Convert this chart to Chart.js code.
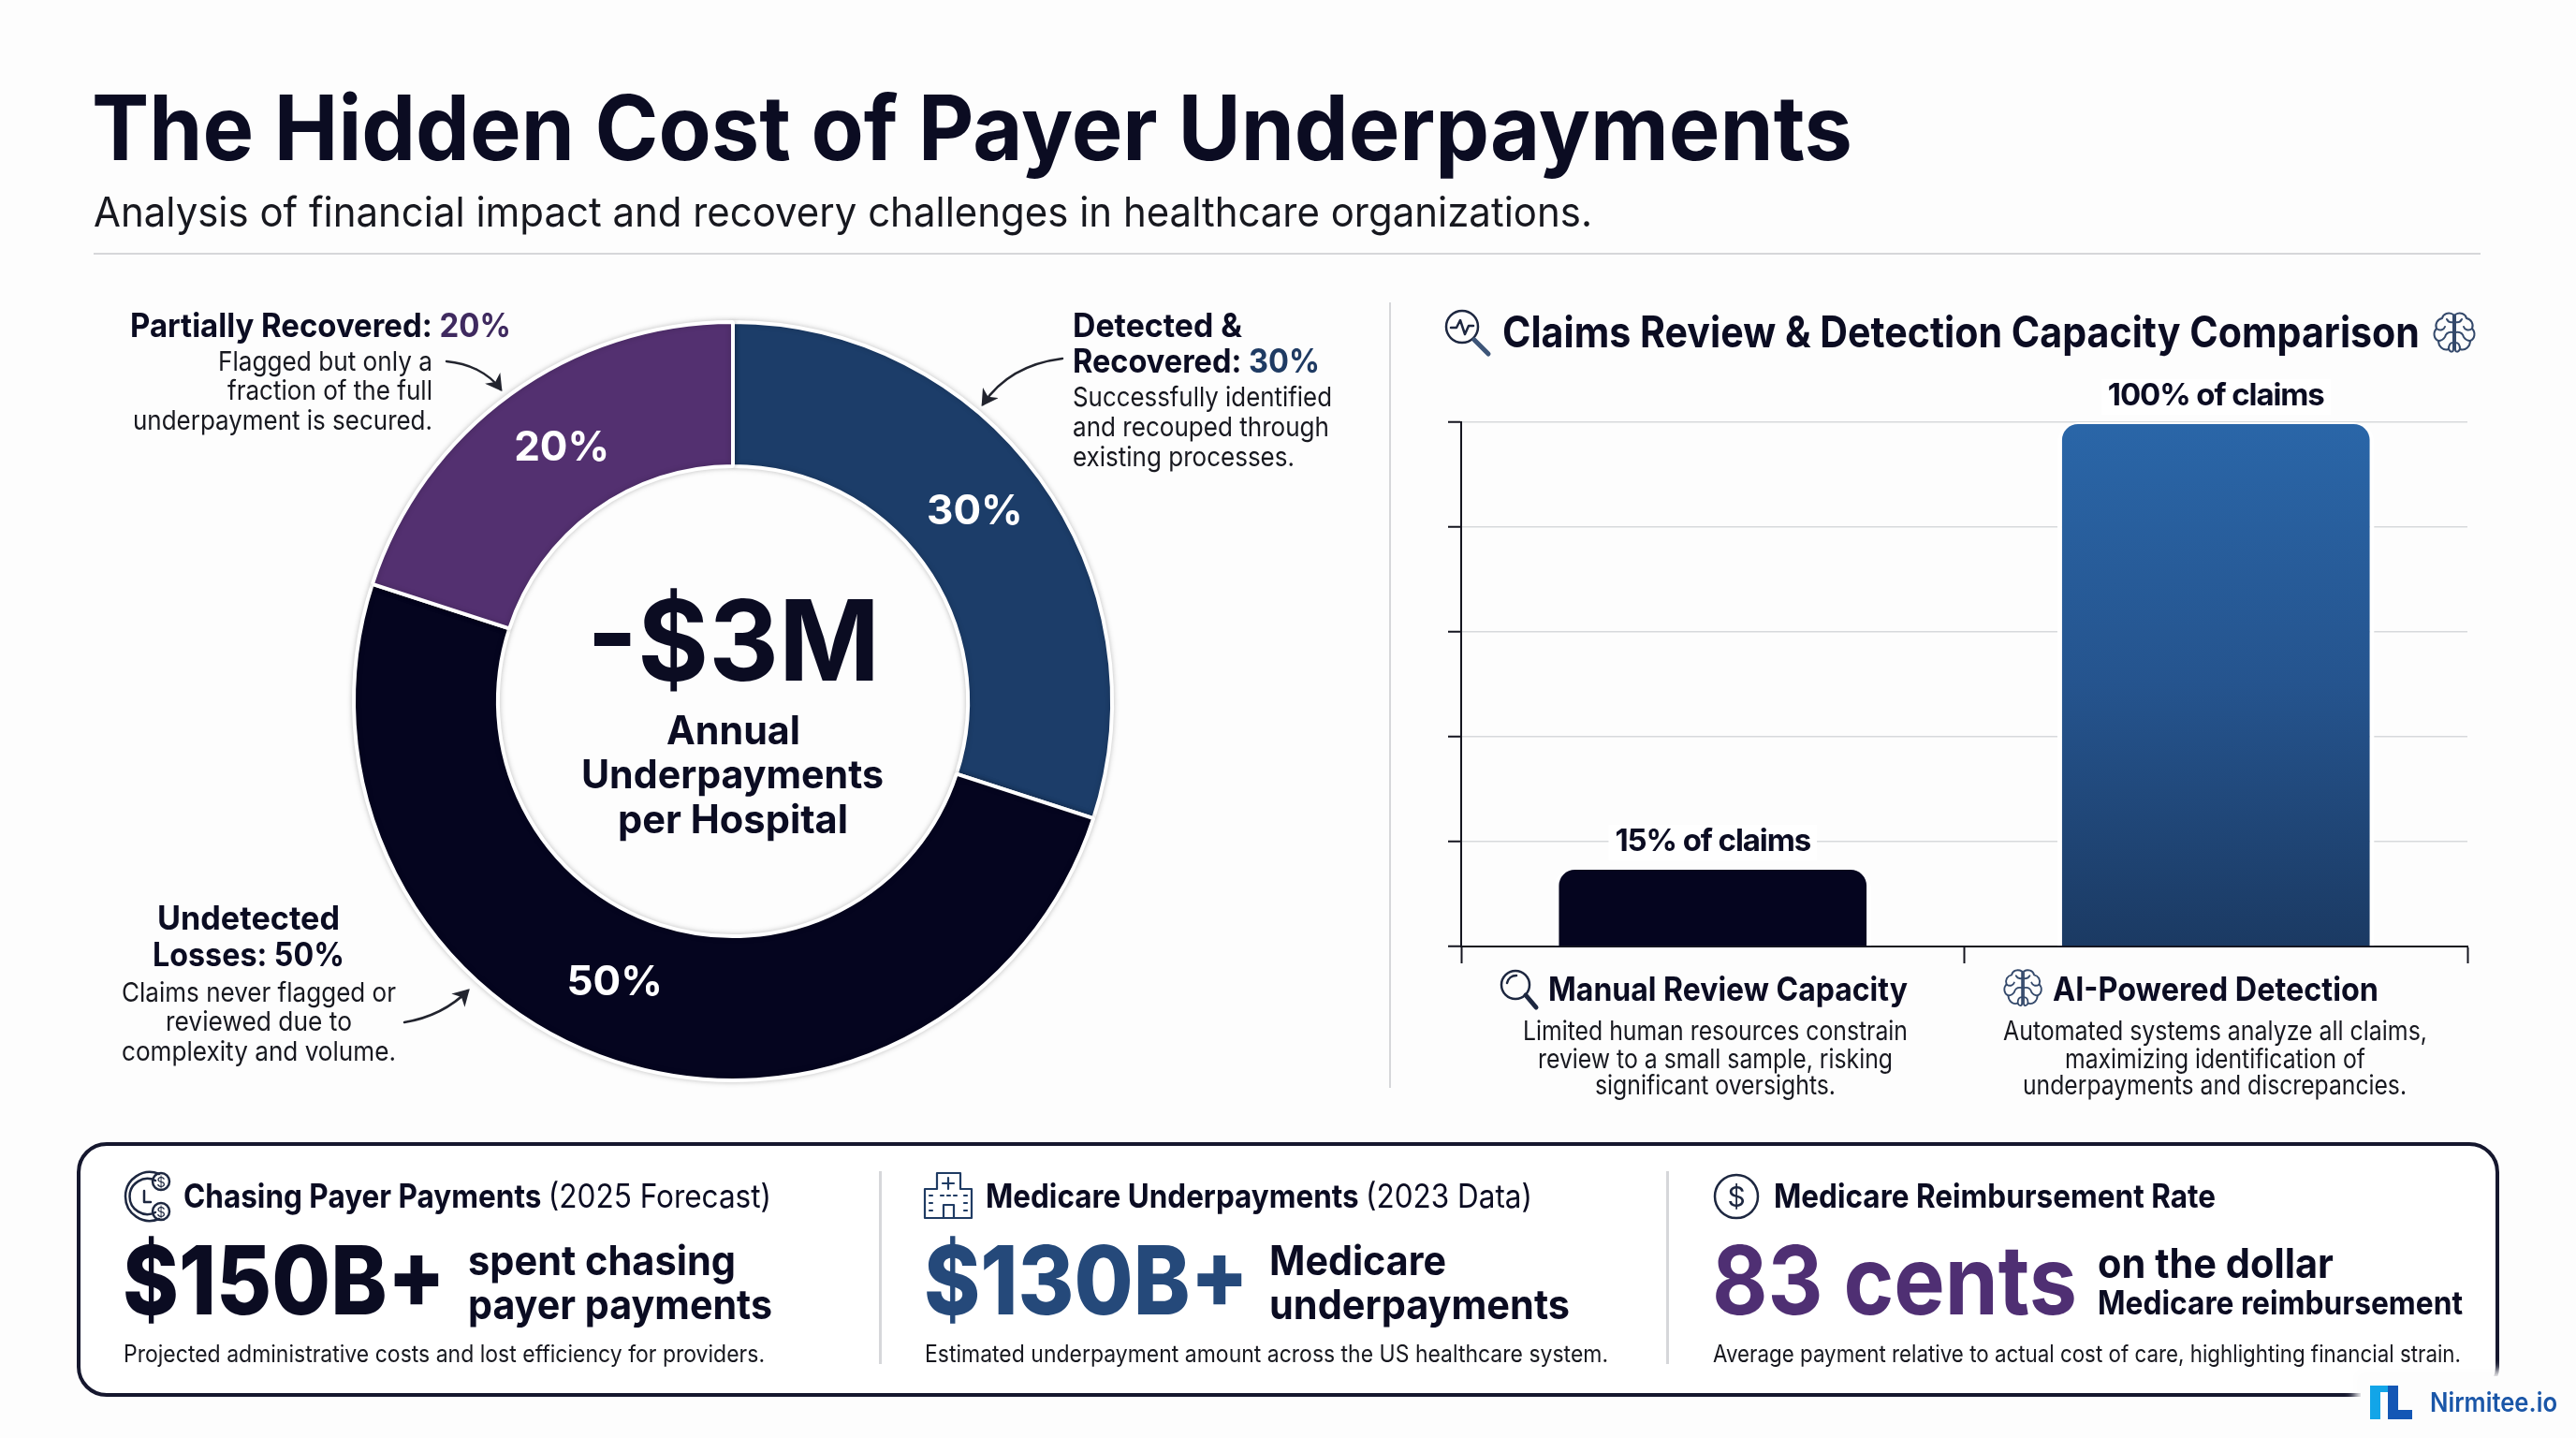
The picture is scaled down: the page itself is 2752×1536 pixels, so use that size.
<!DOCTYPE html>
<html lang="en">
<head>
  <meta charset="UTF-8">
  <title>The Hidden Cost of Payer Underpayments</title>
  <script src="https://cdn.jsdelivr.net/npm/chart.js"></script>
  <style>
    html, body { margin: 0; padding: 0; background: #fdfdfd; }
    #page { position: relative; width: 2752px; height: 1536px; overflow: hidden; font-family: Inter, sans-serif; color: #0b0c22; }
    #page canvas, #art { position: absolute; }
    #art { left: 0; top: 0; }
    .t { position: absolute; white-space: nowrap; line-height: 1.2; transform-origin: left center; }
    .box { position: absolute; left: 82px; top: 1220px; width: 2580px; height: 264px; border: 4px solid #15172e; border-radius: 32px; background: #fff; }
    .rule { position: absolute; background: #d6d7da; }
    .patch { position: absolute; left: 2522px; top: 1470px; width: 230px; height: 66px; background: #fdfdfd; box-shadow: 0 0 10px 6px #fdfdfd; }
  </style>
</head>
<body>
<div id="page">
  <div class="rule" style="left:100px;top:270px;width:2550px;height:2px"></div>
  <div class="rule" style="left:1484px;top:323px;width:2px;height:839px"></div>
  <div class="box"></div>
  <div class="rule" style="left:939px;top:1251px;width:3px;height:206px"></div>
  <div class="rule" style="left:1780px;top:1251px;width:3px;height:206px"></div>
  <div class="patch"></div>

  <canvas id="donut" width="880" height="880" style="left:343px;top:309px"></canvas>
  <canvas id="bars" width="1093" height="638" style="left:1547px;top:391px"></canvas>

  <svg id="art" width="2752" height="1536" fill="none" stroke="#1d2740" stroke-width="2.5" stroke-linecap="round" stroke-linejoin="round">
    <defs>
      <marker id="head" markerWidth="8" markerHeight="8" refX="6" refY="4" orient="auto">
        <path d="M0 0 L7 4 L0 8 L2 4 Z" fill="#22242e" stroke="none"/>
      </marker>
      <g id="brain" stroke-width="2">
        <path d="M23 5C18 2 12 4 11 9C6 10 3 15 5 20C1 24 2 31 7 33C7 39 12 44 18 42C20 46 23 45 23 42Z"/>
        <path d="M25 5C30 2 36 4 37 9C42 10 45 15 43 20C47 24 46 31 41 33C41 39 36 44 30 42C28 46 25 45 25 42Z"/>
        <path d="M23 13C19 14 17 12 16 10M5 20C9 23 13 21 14 18M23 24C18 23 15 25 14 29M7 33C10 33 12 32 14 29M23 35C20 35 18 36 18 42"/>
        <path d="M25 13C29 14 31 12 32 10M43 20C39 23 35 21 34 18M25 24C30 23 33 25 34 29M41 33C38 33 36 32 34 29M25 35C28 35 30 36 30 42"/>
      </g>
    </defs>

    <!-- callout arrows -->
    <g stroke="#22242e" stroke-width="2.5" marker-end="url(#head)">
      <path d="M477 386C500 388 522 398 535 416"/>
      <path d="M1135 383C1095 388 1068 405 1050 432"/>
      <path d="M432 1092C456 1088 480 1078 500 1058"/>
    </g>

    <!-- heading icons -->
    <circle cx="1562" cy="349" r="17"/>
    <path d="M1550 350H1556L1560 342L1565 357L1569 348H1574"/>
    <path d="M1575 363L1590 378" stroke-width="5" stroke="#3d5578"/>
    <use href="#brain" transform="translate(2598 331)" stroke="#34496b"/>

    <!-- caption icons -->
    <circle cx="1619" cy="1052" r="15"/>
    <path d="M1610 1050C1611 1045 1615 1042 1620 1042"/>
    <path d="M1630 1063L1641 1076" stroke-width="5"/>
    <use href="#brain" transform="translate(2139 1033) scale(0.92)" stroke="#34496b"/>

    <!-- chasing payments icon -->
    <path d="M170 1254A26 26 0 1 0 170 1302M166 1261A19 19 0 1 0 166 1295"/>
    <path d="M154 1272V1284H161"/>
    <circle cx="172" cy="1262" r="9"/>
    <circle cx="172" cy="1294" r="9"/>
    <text x="172" y="1268" font-size="15" text-anchor="middle" fill="#1d2740" stroke="none" font-family="Inter">$</text>
    <text x="172" y="1300" font-size="15" text-anchor="middle" fill="#1d2740" stroke="none" font-family="Inter">$</text>

    <!-- hospital icon -->
    <g stroke="#1f3b63" stroke-width="2.2">
      <path d="M988 1301V1270H1001V1253H1026V1270H1038V1301Z"/>
      <path d="M1013 1258V1270M1007 1264H1019"/>
      <path d="M1008 1301V1287H1019V1301"/>
      <path d="M993 1277H996M993 1285H996M993 1293H996M1030 1277H1033M1030 1285H1033M1030 1293H1033M1005 1277H1008M1012 1277H1015M1019 1277H1022"/>
    </g>

    <!-- dollar icon -->
    <circle cx="1855" cy="1278" r="23"/>
    <text x="1855" y="1289" font-size="30" text-anchor="middle" fill="#1d2740" stroke="none" font-family="Inter">$</text>

    <!-- logo mark -->
    <g stroke="none">
      <rect x="2532" y="1480" width="11" height="36" fill="#12a5e8"/>
      <rect x="2532" y="1480" width="30" height="7" fill="#12a5e8"/>
      <rect x="2551" y="1480" width="11" height="36" fill="#1457b5"/>
      <rect x="2551" y="1506" width="26" height="10" fill="#1457b5"/>
    </g>
  </svg>
</div>

<script>
  // Data
  const shareLabels = ['Detected & Recovered', 'Undetected Losses', 'Partially Recovered'];
  const shareValues = [30, 50, 20];
  const shareColors = ['#1c3d69', '#05051f', '#533070'];

  const capacityLabels = ['Manual Review Capacity', 'AI-Powered Detection'];
  const capacityValues = [15, 100];
  const capacityTicks = [0, 20, 40, 60, 80, 100];

  const DARK = '#0b0c22', BODY = '#17181f', NAVY = '#1f3b63', PURPLE = '#3f2a5f';
  const page = document.getElementById('page');

  // Places a line between two x positions on a baseline, squeezing it to fit
  function line(left, right, base, size, weight, color, html) {
    const el = document.createElement('div');
    el.className = 't';
    el.innerHTML = html;
    el.style.cssText = `left:${left}px;top:${base - 0.3635 * size}px;font-size:${size}px;font-weight:${weight};color:${color}`;
    page.appendChild(el);
    const k = (right - left) / el.getBoundingClientRect().width;
    el.style.transform = `translateY(-50%) scaleX(${k.toFixed(4)})`;
  }
  const part = (color, text) => `<span style="color:${color}">${text}</span>`;
  const thin = text => `<span style="font-weight:400">${text}</span>`;

  line(98, 1979, 172, 96, 700, DARK, 'The Hidden Cost of Payer Underpayments');
  line(100, 1701, 242, 44, 400, BODY, 'Analysis of financial impact and recovery challenges in healthcare organizations.');

  // Donut callouts
  line(139, 546, 360, 35, 700, DARK, 'Partially Recovered: ' + part(PURPLE, '20%'));
  line(233, 462, 397, 29, 400, BODY, 'Flagged but only a');
  line(243, 462, 428, 29, 400, BODY, 'fraction of the full');
  line(142, 462, 460, 29, 400, BODY, 'underpayment is secured.');

  line(1146, 1327, 360, 35, 700, DARK, 'Detected &amp;');
  line(1146, 1410, 398, 35, 700, DARK, 'Recovered: ' + part(NAVY, '30%'));
  line(1146, 1423, 435, 29, 400, BODY, 'Successfully identified');
  line(1146, 1420, 467, 29, 400, BODY, 'and recouped through');
  line(1146, 1383, 499, 29, 400, BODY, 'existing processes.');

  line(168, 363, 993, 35, 700, DARK, 'Undetected');
  line(163, 368, 1032, 35, 700, DARK, 'Losses: 50%');
  line(130, 423, 1071, 29, 400, BODY, 'Claims never flagged or');
  line(177, 376, 1102, 29, 400, BODY, 'reviewed due to');
  line(130, 423, 1134, 29, 400, BODY, 'complexity and volume.');

  // Donut centre
  line(627, 940, 728, 120, 700, DARK, '-$3M');
  line(712, 855, 795, 42, 700, DARK, 'Annual');
  line(621, 944, 842, 42, 700, DARK, 'Underpayments');
  line(660, 906, 890, 42, 700, DARK, 'per Hospital');

  // Capacity panel
  line(1605, 2585, 372, 46, 700, DARK, 'Claims Review &amp; Detection Capacity Comparison');
  line(1654, 2038, 1069, 35, 700, DARK, capacityLabels[0]);
  line(2193, 2541, 1069, 35, 700, DARK, capacityLabels[1]);
  line(1627, 2038, 1112, 28, 400, BODY, 'Limited human resources constrain');
  line(1643, 2022, 1142, 28, 400, BODY, 'review to a small sample, risking');
  line(1704, 1961, 1170, 28, 400, BODY, 'significant oversights.');
  line(2140, 2593, 1112, 28, 400, BODY, 'Automated systems analyze all claims,');
  line(2206, 2527, 1142, 28, 400, BODY, 'maximizing identification of');
  line(2161, 2571, 1170, 28, 400, BODY, 'underpayments and discrepancies.');

  // Bottom stat cards
  line(196, 824, 1290, 35, 700, DARK, 'Chasing Payer Payments ' + thin('(2025 Forecast)'));
  line(131, 476, 1404, 102, 800, DARK, '$150B+');
  line(500, 786, 1362, 44, 700, DARK, 'spent chasing');
  line(500, 825, 1409, 44, 700, DARK, 'payer payments');
  line(132, 817, 1455, 25, 400, BODY, 'Projected administrative costs and lost efficiency for providers.');

  line(1053, 1637, 1290, 35, 700, DARK, 'Medicare Underpayments ' + thin('(2023 Data)'));
  line(987, 1334, 1404, 102, 800, '#25497a', '$130B+');
  line(1356, 1545, 1362, 44, 700, DARK, 'Medicare');
  line(1356, 1677, 1409, 44, 700, DARK, 'underpayments');
  line(988, 1718, 1455, 25, 400, BODY, 'Estimated underpayment amount across the US healthcare system.');

  line(1895, 2367, 1290, 35, 700, DARK, 'Medicare Reimbursement Rate');
  line(1829, 2219, 1404, 102, 700, '#4f2f73', '83 cents');
  line(2241, 2493, 1365, 44, 700, DARK, 'on the dollar');
  line(2241, 2631, 1404, 35, 700, DARK, 'Medicare reimbursement');
  line(1830, 2629, 1455, 25, 400, BODY, 'Average payment relative to actual cost of care, highlighting financial strain.');

  line(2596, 2732, 1509, 28, 600, '#1a56a8', 'Nirmitee.io');

  // Percent labels on the ring, nudged from each slice centre
  const sliceNudge = [[-7, -9], [-25, -11], [10, -5]];
  const sliceLabels = {
    id: 'sliceLabels',
    afterDatasetsDraw(chart) {
      const { ctx } = chart;
      ctx.save();
      ctx.font = '700 44px Inter';
      ctx.fillStyle = '#fff';
      ctx.textAlign = 'center';
      ctx.textBaseline = 'middle';
      chart.getDatasetMeta(0).data.forEach((arc, i) => {
        const c = arc.getCenterPoint();
        ctx.fillText(shareValues[i] + '%', c.x + sliceNudge[i][0], c.y + sliceNudge[i][1]);
      });
      ctx.restore();
    }
  };

  // Soft edge around the ring
  const ringShadow = {
    id: 'ringShadow',
    beforeDatasetsDraw(chart) {
      chart.ctx.save();
      chart.ctx.shadowColor = 'rgba(0,0,0,0.2)';
      chart.ctx.shadowBlur = 6;
    },
    afterDatasetsDraw(chart) {
      chart.ctx.restore();
    }
  };

  new Chart(document.getElementById('donut'), {
    type: 'doughnut',
    data: {
      labels: shareLabels,
      datasets: [{ data: shareValues, backgroundColor: shareColors, borderColor: '#fff', borderWidth: 4 }]
    },
    options: {
      responsive: false,
      animation: false,
      radius: 405,
      cutout: '62%',
      plugins: { legend: { display: false }, tooltip: { enabled: false } }
    },
    plugins: [ringShadow, sliceLabels]
  });

  // Value captions above the bars, with a white backing that breaks the grid line
  const barLabels = {
    id: 'barLabels',
    afterDatasetsDraw(chart) {
      const { ctx } = chart;
      ctx.save();
      ctx.font = '700 33px Inter';
      ctx.letterSpacing = '-1.1px';
      ctx.textAlign = 'center';
      chart.getDatasetMeta(0).data.forEach((bar, i) => {
        const text = capacityValues[i] + '% of claims';
        const w = ctx.measureText(text).width + 14;
        ctx.fillStyle = '#fff';
        ctx.fillRect(bar.x - w / 2, bar.y - 46, w, 38);
        ctx.fillStyle = DARK;
        ctx.fillText(text, bar.x, bar.y - 18);
      });
      ctx.restore();
    }
  };

  function barFill(c) {
    const { ctx, chartArea } = c.chart;
    if (!chartArea) return '#1c3d69';
    const g = ctx.createLinearGradient(0, chartArea.top, 0, chartArea.bottom);
    if (c.dataIndex === 0) {
      g.addColorStop(0, '#05051f');
      g.addColorStop(1, '#05051f');
    } else {
      g.addColorStop(0, '#2a66a8');
      g.addColorStop(0.5, '#25548e');
      g.addColorStop(1, '#1b3a63');
    }
    return g;
  }

  new Chart(document.getElementById('bars'), {
    type: 'bar',
    data: {
      labels: capacityLabels,
      datasets: [{
        data: capacityValues,
        backgroundColor: barFill,
        borderColor: '#fff',
        borderWidth: { top: 2, left: 5, right: 5, bottom: 0 },
        borderRadius: { topLeft: 22, topRight: 22 },
        borderSkipped: false,
        barPercentage: 0.63,
        categoryPercentage: 1
      }]
    },
    options: {
      responsive: false,
      animation: false,
      layout: { padding: { left: 0, right: 4, top: 60, bottom: 0 } },
      plugins: { legend: { display: false }, tooltip: { enabled: false } },
      scales: {
        x: {
          ticks: { display: false },
          border: { color: '#14151f', width: 2 },
          grid: { drawOnChartArea: false, tickColor: '#14151f', tickLength: 18, tickWidth: 2 }
        },
        y: {
          min: 0,
          max: 100,
          afterBuildTicks: axis => { axis.ticks = capacityTicks.map(value => ({ value })); },
          ticks: { display: false },
          border: { color: '#14151f', width: 2 },
          grid: { color: '#d7d9dc', lineWidth: 1.5, tickColor: '#14151f', tickLength: 14, tickWidth: 2 }
        }
      }
    },
    plugins: [barLabels]
  });
</script>
</body>
</html>
